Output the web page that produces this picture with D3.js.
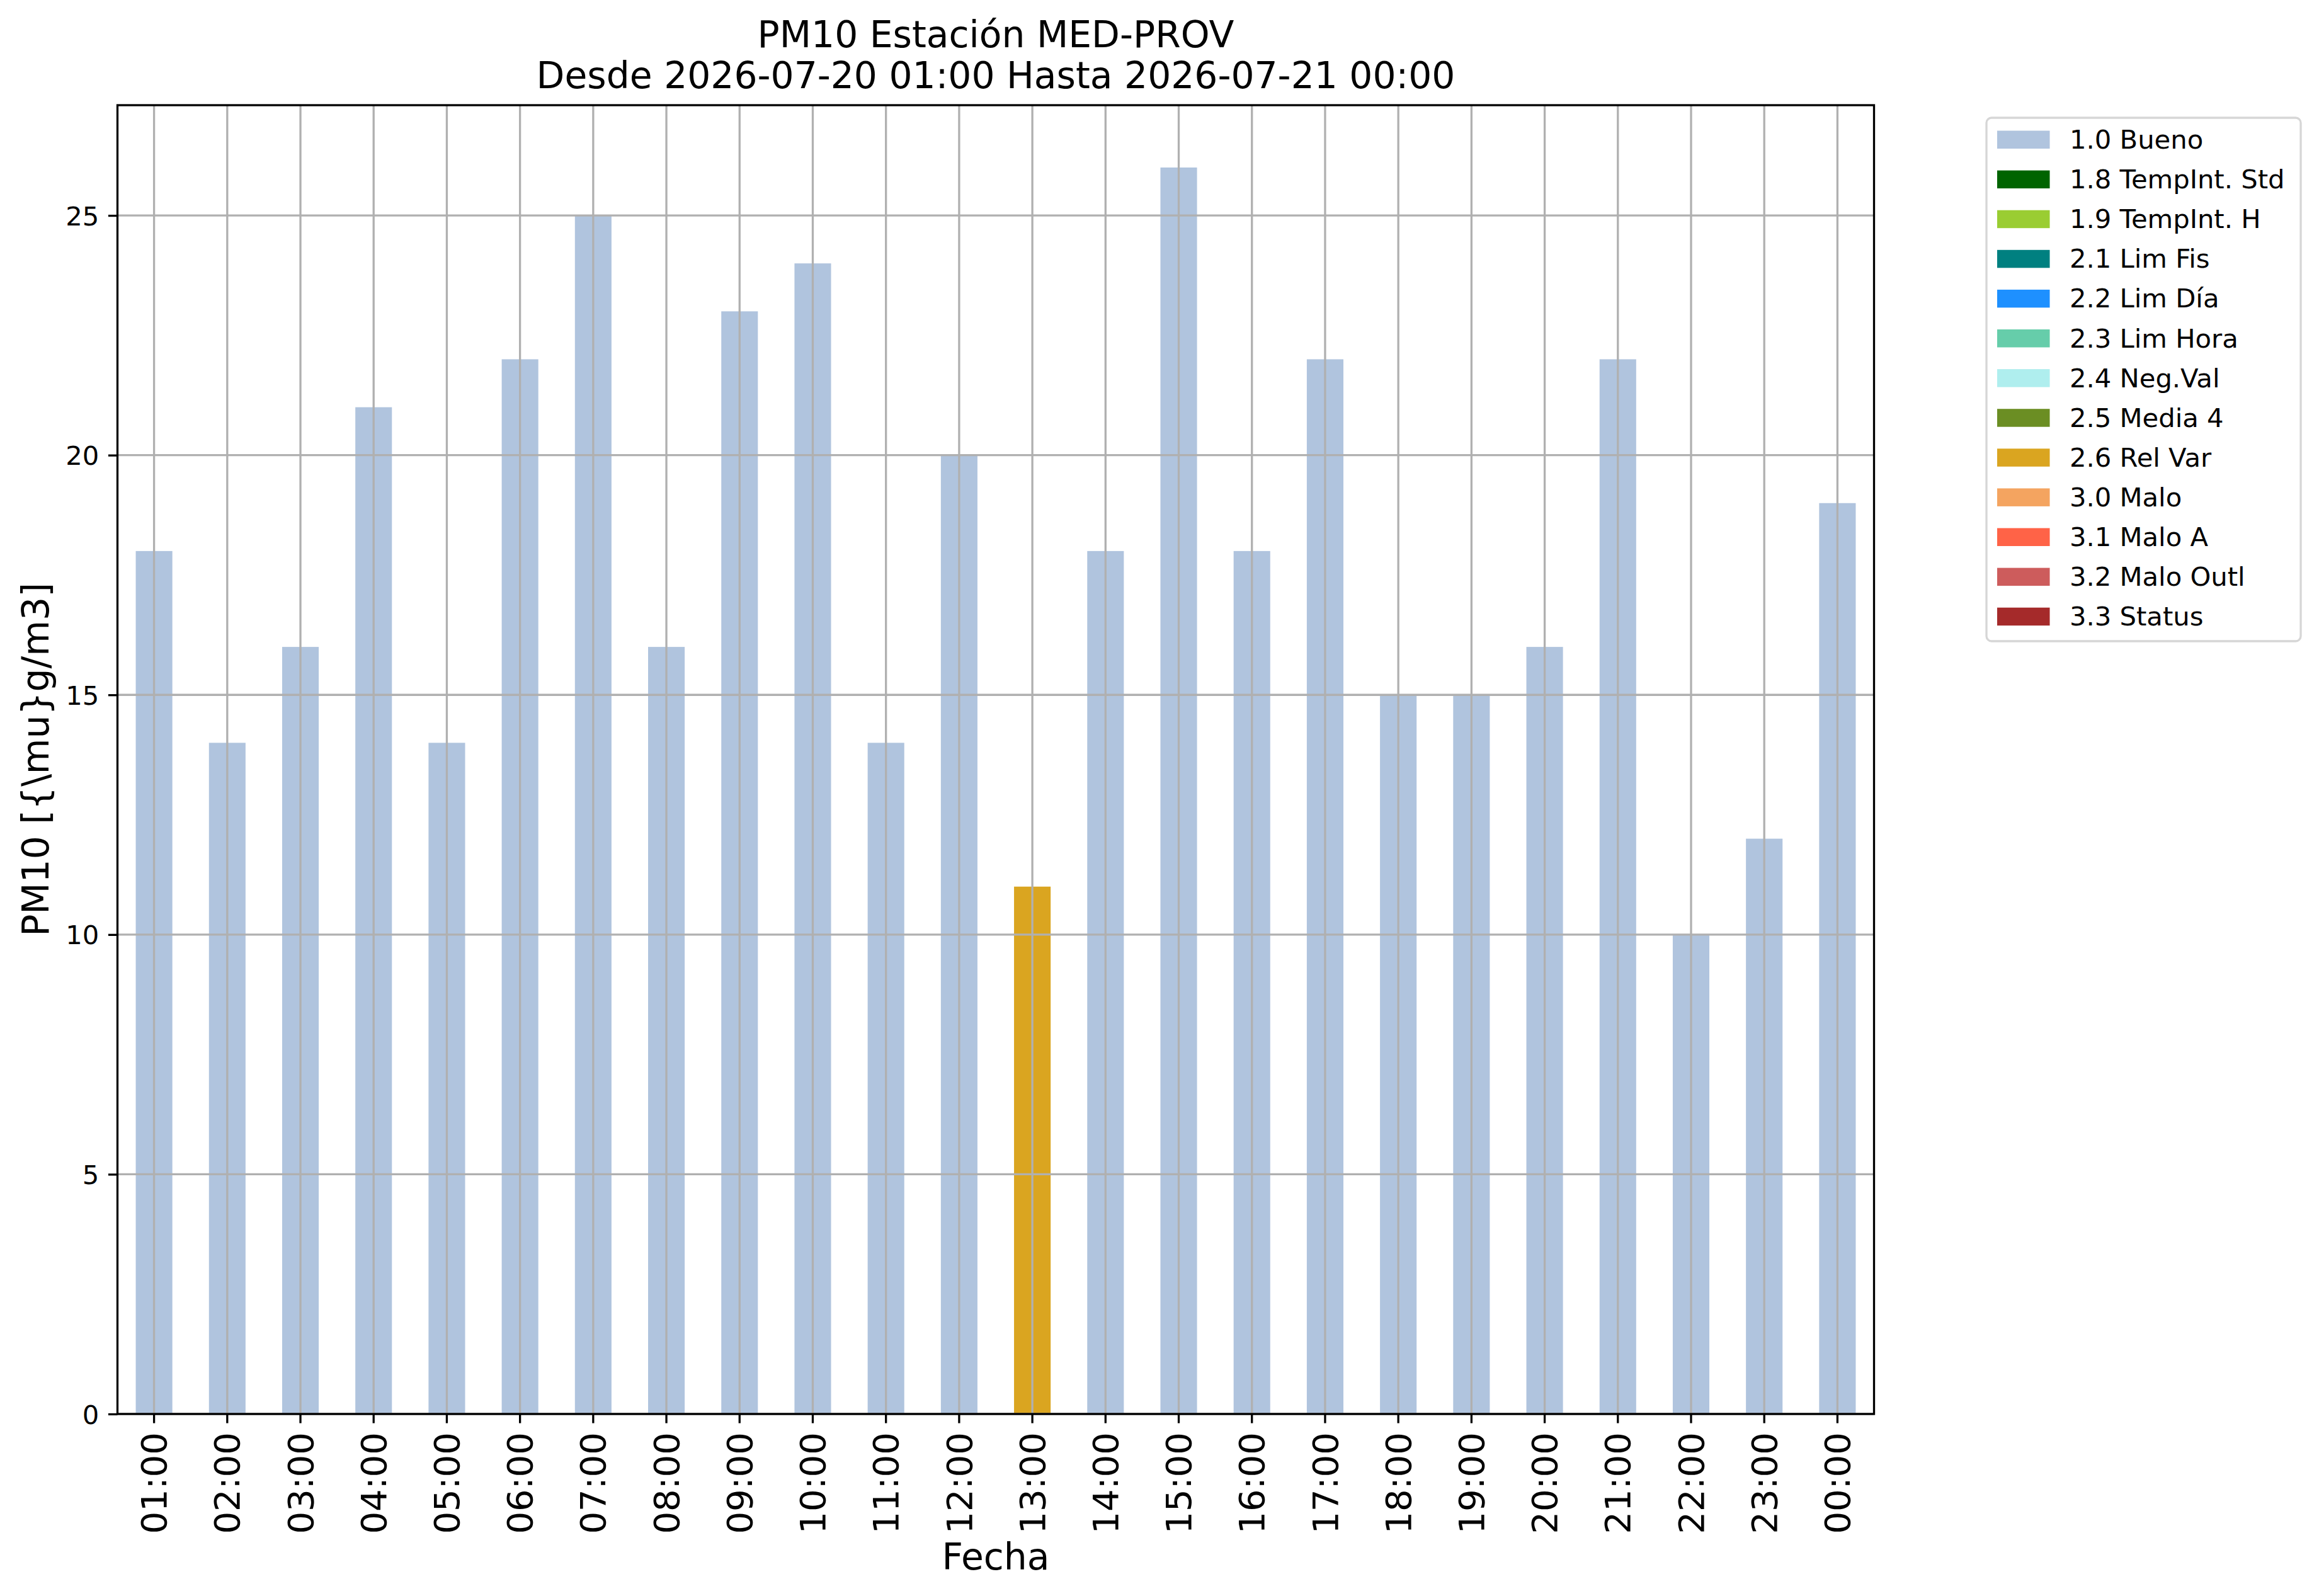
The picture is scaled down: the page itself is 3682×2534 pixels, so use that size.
<!DOCTYPE html>
<html>
<head>
<meta charset="utf-8">
<script src="https://cdn.jsdelivr.net/npm/d3@7"></script>
<style>
  body { margin: 0; background: #fff; }
  svg text { font-family: "DejaVu Sans", sans-serif; fill: #000; }
</style>
</head>
<body>
<svg id="chart"></svg>
<script>
// hourly PM10 values and their validation flag
const hours = ['01:00', '02:00', '03:00', '04:00', '05:00', '06:00', '07:00', '08:00',
  '09:00', '10:00', '11:00', '12:00', '13:00', '14:00', '15:00', '16:00',
  '17:00', '18:00', '19:00', '20:00', '21:00', '22:00', '23:00', '00:00'];
const values = [18, 14, 16, 21, 14, 22, 25, 16, 23, 24, 14, 20, 11, 18, 26, 18,
  22, 15, 15, 16, 22, 10, 12, 19];
const flags = ['1.0', '1.0', '1.0', '1.0', '1.0', '1.0', '1.0', '1.0', '1.0', '1.0', '1.0', '1.0',
  '2.6', '1.0', '1.0', '1.0', '1.0', '1.0', '1.0', '1.0', '1.0', '1.0', '1.0', '1.0'];

// legend categories
const flagCodes = ['1.0', '1.8', '1.9', '2.1', '2.2', '2.3', '2.4', '2.5', '2.6', '3.0', '3.1', '3.2', '3.3'];
const flagNames = ['Bueno', 'TempInt. Std', 'TempInt. H', 'Lim Fis', 'Lim Día', 'Lim Hora',
  'Neg.Val', 'Media 4', 'Rel Var', 'Malo', 'Malo A', 'Malo Outl', 'Status'];
const flagColors = ['lightsteelblue', 'darkgreen', 'yellowgreen', 'teal', 'dodgerblue',
  'mediumaquamarine', 'paleturquoise', 'olivedrab', 'goldenrod', 'sandybrown', 'tomato',
  'indianred', 'brown'];

const yTicks = [0, 5, 10, 15, 20, 25];
const titleLines = ['PM10 Estación MED-PROV', 'Desde 2026-07-20 01:00 Hasta 2026-07-21 00:00'];

const W = 3682, H = 2534;
const plotL = 186.5, plotR = 2975.5, plotT = 167, plotB = 2245;
const lw = 3.3;

const svg = d3.select('#chart').attr('width', W).attr('height', H);

const x = d3.scaleBand().domain(hours).range([plotL, plotR])
  .paddingInner(0.5).paddingOuter(0.25);
const y = d3.scaleLinear().domain([0, d3.max(values) * 1.05]).range([plotB, plotT]);
const color = d3.scaleOrdinal(flagCodes, flagColors);

// bars
svg.append('g').selectAll('rect')
  .data(hours)
  .enter().append('rect')
  .attr('x', (d) => x(d))
  .attr('width', x.bandwidth())
  .attr('y', (d, i) => y(values[i]))
  .attr('height', (d, i) => y(0) - y(values[i]))
  .attr('fill', (d, i) => color(flags[i]));

// grid (drawn over the bars, like matplotlib)
const grid = svg.append('g').attr('stroke', '#b0b0b0').attr('stroke-width', lw);
grid.selectAll('.vg').data(hours).enter().append('line')
  .attr('x1', (d) => x(d) + x.bandwidth() / 2).attr('x2', (d) => x(d) + x.bandwidth() / 2)
  .attr('y1', plotT).attr('y2', plotB);
grid.selectAll('.hg').data(yTicks).enter().append('line')
  .attr('x1', plotL).attr('x2', plotR)
  .attr('y1', (d) => y(d)).attr('y2', (d) => y(d));

// axes
const xAxis = svg.append('g')
  .attr('transform', 'translate(0,' + plotB + ')')
  .call(d3.axisBottom(x).tickSize(14.6).tickPadding(14.6));
xAxis.select('.domain').remove();
xAxis.selectAll('line').attr('stroke', '#000').attr('stroke-width', lw);
xAxis.selectAll('text')
  .attr('font-size', 56)
  .attr('transform', 'rotate(-90)')
  .attr('x', -29.2).attr('y', 0).attr('dy', '0.35em')
  .attr('text-anchor', 'end');

const yAxis = svg.append('g')
  .attr('transform', 'translate(' + plotL + ',0)')
  .call(d3.axisLeft(y).tickValues(yTicks).tickSize(14.6).tickPadding(14.6));
yAxis.select('.domain').remove();
yAxis.selectAll('line').attr('stroke', '#000').attr('stroke-width', lw);
yAxis.selectAll('text').attr('font-size', 41.7).attr('dy', '0.36em');
svg.selectAll('.tick text').attr('font-family', 'DejaVu Sans').attr('fill', '#000');

// frame
svg.append('rect')
  .attr('x', plotL).attr('y', plotT)
  .attr('width', plotR - plotL).attr('height', plotB - plotT)
  .attr('fill', 'none').attr('stroke', '#000').attr('stroke-width', lw);

// titles and labels
const cx = (plotL + plotR) / 2;
svg.append('g').selectAll('text').data(titleLines).enter().append('text')
  .attr('x', cx).attr('y', (d, i) => 75 + i * 65)
  .attr('text-anchor', 'middle').attr('font-size', 58.3)
  .text((d) => d);

svg.append('text')
  .attr('x', cx).attr('y', 2492)
  .attr('text-anchor', 'middle').attr('font-size', 58.3)
  .text('Fecha');

svg.append('text')
  .attr('transform', 'translate(77,' + (plotT + plotB) / 2 + ') rotate(-90)')
  .attr('text-anchor', 'middle').attr('font-size', 58.3)
  .text('PM10 [{\\mu}g/m3]');

// legend
const legend = svg.append('g');
legend.append('rect')
  .attr('x', 3154).attr('y', 187)
  .attr('width', 499).attr('height', 831)
  .attr('rx', 8).attr('ry', 8)
  .attr('fill', '#fff').attr('fill-opacity', 0.8)
  .attr('stroke', '#d6d6d6').attr('stroke-width', lw);

const item = legend.selectAll('.item')
  .data(flagCodes)
  .enter().append('g')
  .attr('class', 'item')
  .attr('transform', (d, i) => 'translate(0,' + (236 + i * 63.1) + ')');
item.append('rect')
  .attr('x', 3171).attr('y', -28.5)
  .attr('width', 83.5).attr('height', 28.5)
  .attr('fill', (d) => color(d));
item.append('text')
  .attr('x', 3286).attr('y', 0)
  .attr('font-size', 41.7)
  .text((d, i) => d + ' ' + flagNames[i]);
</script>
</body>
</html>
